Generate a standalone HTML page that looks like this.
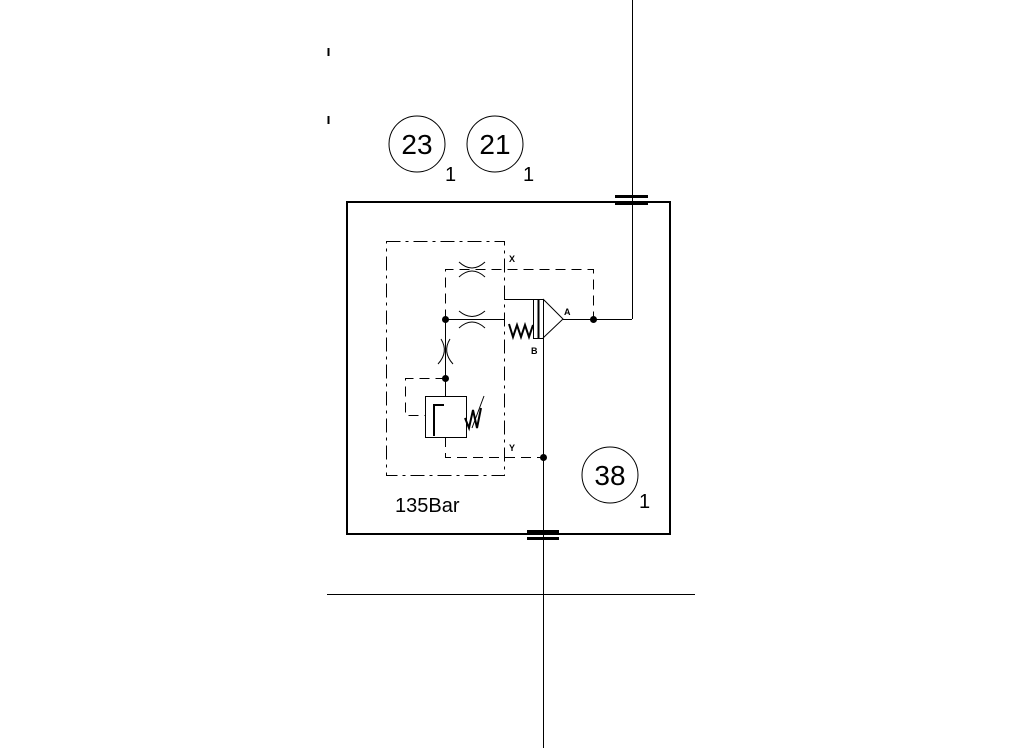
<!DOCTYPE html>
<html><head><style>body{margin:0;background:#fff}svg{display:block}</style></head><body>
<svg width="1024" height="748" viewBox="0 0 1024 748" xmlns="http://www.w3.org/2000/svg" font-family="Liberation Sans, sans-serif">
<rect width="1024" height="748" fill="#fff"/>
<g stroke="#000" fill="none" stroke-width="1" shape-rendering="crispEdges">
<line x1="632.5" y1="0" x2="632.5" y2="319"/>
<line x1="543.5" y1="338" x2="543.5" y2="748"/>
<line x1="327" y1="594.5" x2="695" y2="594.5"/>
<line x1="328.5" y1="48" x2="328.5" y2="56" stroke-width="2"/>
<line x1="328.5" y1="116" x2="328.5" y2="124" stroke-width="2"/>
<rect x="347" y="202" width="323" height="332" stroke-width="2"/>
<rect x="615" y="195" width="33" height="3" fill="#000" stroke="none"/>
<rect x="615" y="202" width="33" height="3" fill="#000" stroke="none"/>
<rect x="527" y="530" width="32" height="3" fill="#000" stroke="none"/>
<rect x="527" y="537" width="32" height="3" fill="#000" stroke="none"/>
<rect x="386.5" y="241.5" width="118" height="234" stroke-dasharray="14,5,3,5"/>
<polyline points="445.5,319.5 445.5,269.5 593.5,269.5 593.5,319.5" stroke-dasharray="10,6"/>
<line x1="445.5" y1="319.5" x2="504" y2="319.5"/>
<line x1="445.5" y1="319.5" x2="445.5" y2="396"/>
<polyline points="445.5,378.5 405.5,378.5 405.5,415.5 425,415.5" stroke-dasharray="10,6"/>
<rect x="425.5" y="396.5" width="41" height="41"/>
<polyline points="445.5,437 445.5,457.5 543,457.5" stroke-dasharray="10,6"/>
<line x1="504" y1="299.5" x2="533" y2="299.5"/>
<rect x="533.5" y="299.5" width="10" height="39"/>
<line x1="538.5" y1="299" x2="538.5" y2="338" stroke-width="2"/>
<line x1="563" y1="319.5" x2="632" y2="319.5"/>
</g>
<g stroke="#000" fill="none" stroke-width="1">
<circle cx="417" cy="144" r="28"/>
<circle cx="495" cy="144" r="28"/>
<circle cx="610" cy="475" r="28"/>
<path d="M459,262 Q472,274 485,262 M459,277 Q472,265 485,277"/>
<path d="M459,311 Q472,322 485,311 M459,328 Q472,316 485,328"/>
<path d="M441,339 Q449,352 438,364 M450,339 Q442,352 453,364"/>
<polyline points="434,436 434,405 444,405" stroke-width="2"/>
<path d="M465,418 L469,428 L473,410 L477,428 L481,408" stroke-width="2"/>
<line x1="472" y1="428" x2="484" y2="396"/>
<polyline points="543,299 563,319 543,338"/>
<path d="M509,324 L513,337 L517,325 L521,337 L525,325 L529,337 L533,325" stroke-width="2"/>
</g>
<g fill="#000">
<circle cx="445.5" cy="319.5" r="3.5"/>
<circle cx="445.5" cy="378.5" r="3.5"/>
<circle cx="593.5" cy="319.5" r="3.5"/>
<circle cx="543.5" cy="457.5" r="3.5"/>
<g font-size="28"><text x="417" y="154" text-anchor="middle">23</text><text x="495" y="154" text-anchor="middle">21</text><text x="610" y="485" text-anchor="middle">38</text></g>
<g font-size="20"><text x="445" y="181">1</text><text x="523" y="181">1</text><text x="639" y="508">1</text></g>
<text x="395" y="512" font-size="20">135Bar</text>
<g font-size="9" font-weight="bold"><text x="509" y="262">X</text><text x="509" y="451">Y</text><text x="564" y="315">A</text><text x="531" y="354">B</text></g>
</g>
</svg>
</body></html>
